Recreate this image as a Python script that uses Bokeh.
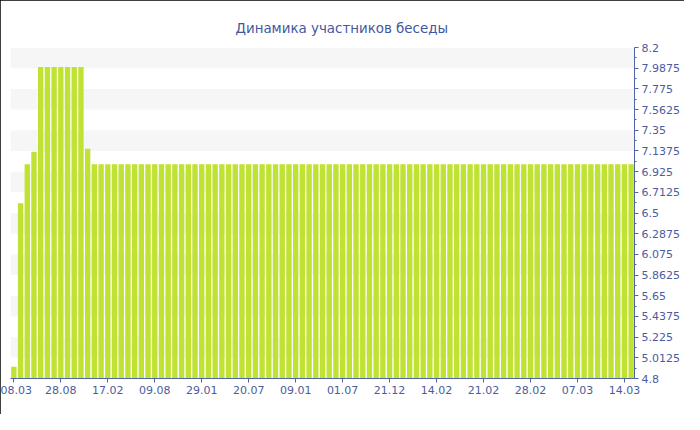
from bokeh.plotting import figure
from bokeh.models import FixedTicker, CustomJSTickFormatter, Range1d
from bokeh.embed import file_html
from bokeh.resources import INLINE

title_text = "Динамика участников беседы"

values = [4.92, 6.6, 7.0, 7.13, 8.0, 8.0, 8.0, 8.0, 8.0, 8.0, 8.0, 7.16,
          7.0, 7.0, 7.0, 7.0, 7.0, 7.0, 7.0, 7.0, 7.0, 7.0,
          7.0, 7.0, 7.0, 7.0, 7.0, 7.0, 7.0, 7.0, 7.0, 7.0,
          7.0, 7.0, 7.0, 7.0, 7.0, 7.0, 7.0, 7.0, 7.0, 7.0,
          7.0, 7.0, 7.0, 7.0, 7.0, 7.0, 7.0, 7.0, 7.0, 7.0,
          7.0, 7.0, 7.0, 7.0, 7.0, 7.0, 7.0, 7.0, 7.0, 7.0,
          7.0, 7.0, 7.0, 7.0, 7.0, 7.0, 7.0, 7.0, 7.0, 7.0,
          7.0, 7.0, 7.0, 7.0, 7.0, 7.0, 7.0, 7.0, 7.0, 7.0,
          7.0, 7.0, 7.0, 7.0, 7.0, 7.0, 7.0, 7.0, 7.0, 7.0,
          7.0]
bar_index = list(range(len(values)))

x_tick_positions = [0, 7, 14, 21, 28, 35, 42, 49, 56, 63, 70, 77, 84, 91]
x_tick_labels = ["08.03", "28.08", "17.02", "09.08", "29.01", "20.07", "09.01",
                 "01.07", "21.12", "14.02", "21.02", "28.02", "07.03", "14.03"]

y_ticks = [4.8, 5.0125, 5.225, 5.4375, 5.65, 5.8625, 6.075, 6.2875, 6.5,
           6.7125, 6.925, 7.1375, 7.35, 7.5625, 7.775, 7.9875, 8.2]
y_minor = [4.90625, 5.11875, 5.33125, 5.54375, 5.75625, 5.96875, 6.18125,
           6.39375, 6.60625, 6.81875, 7.03125, 7.24375, 7.45625, 7.66875,
           7.88125, 8.09375]

AX = "#5064a6"
TXT = "#4a5d9e"
FONT = "DejaVu Sans"

p = figure(width=684, height=414, output_backend="svg",
           toolbar_location=None, y_axis_location="right",
           x_range=Range1d(-0.5, len(values) - 0.5),
           y_range=Range1d(y_ticks[0], y_ticks[-1]),
           min_border_left=10, min_border_right=50, min_border_top=47,
           min_border_bottom=36,
           styles={"outline": "2px solid black", "outline-offset": "-2px"})

p.title.text = title_text
p.title.align = "left"
p.title.offset = 225
p.title.text_color = "#3f58a0"
p.title.text_font = FONT
p.title.text_font_size = "13.4px"
p.title.text_font_style = "normal"
p.title.standoff = 24

p.vbar(x=bar_index, top=values, bottom=y_ticks[0], width=0.8,
       fill_color="#bfe233", line_color=None)

p.outline_line_color = None
p.background_fill_color = "white"
p.border_fill_color = "white"

p.xgrid.visible = False
p.ygrid.grid_line_color = None
p.ygrid.band_fill_color = "#f6f6f6"
p.ygrid.band_fill_alpha = 1.0

xa = p.xaxis[0]
xa.ticker = FixedTicker(ticks=x_tick_positions)
xa.major_label_overrides = {k: v for k, v in zip(x_tick_positions, x_tick_labels)}
ya = p.yaxis[0]
ya.ticker = FixedTicker(ticks=y_ticks, minor_ticks=y_minor)
ya.formatter = CustomJSTickFormatter(code="return parseFloat(tick.toFixed(4)).toString();")

for ax in (xa, ya):
    ax.axis_line_color = AX
    ax.major_tick_line_color = AX
    ax.minor_tick_line_color = AX
    ax.major_label_text_color = TXT
    ax.major_label_text_font = FONT
    ax.major_label_text_font_size = "11px"
    ax.major_tick_in = 0
    ax.major_tick_out = 4
    ax.minor_tick_in = 0
    ax.minor_tick_out = 2
    ax.major_label_standoff = 3

xa.minor_tick_line_color = None

open("out.html", "w").write(file_html(p, INLINE))
